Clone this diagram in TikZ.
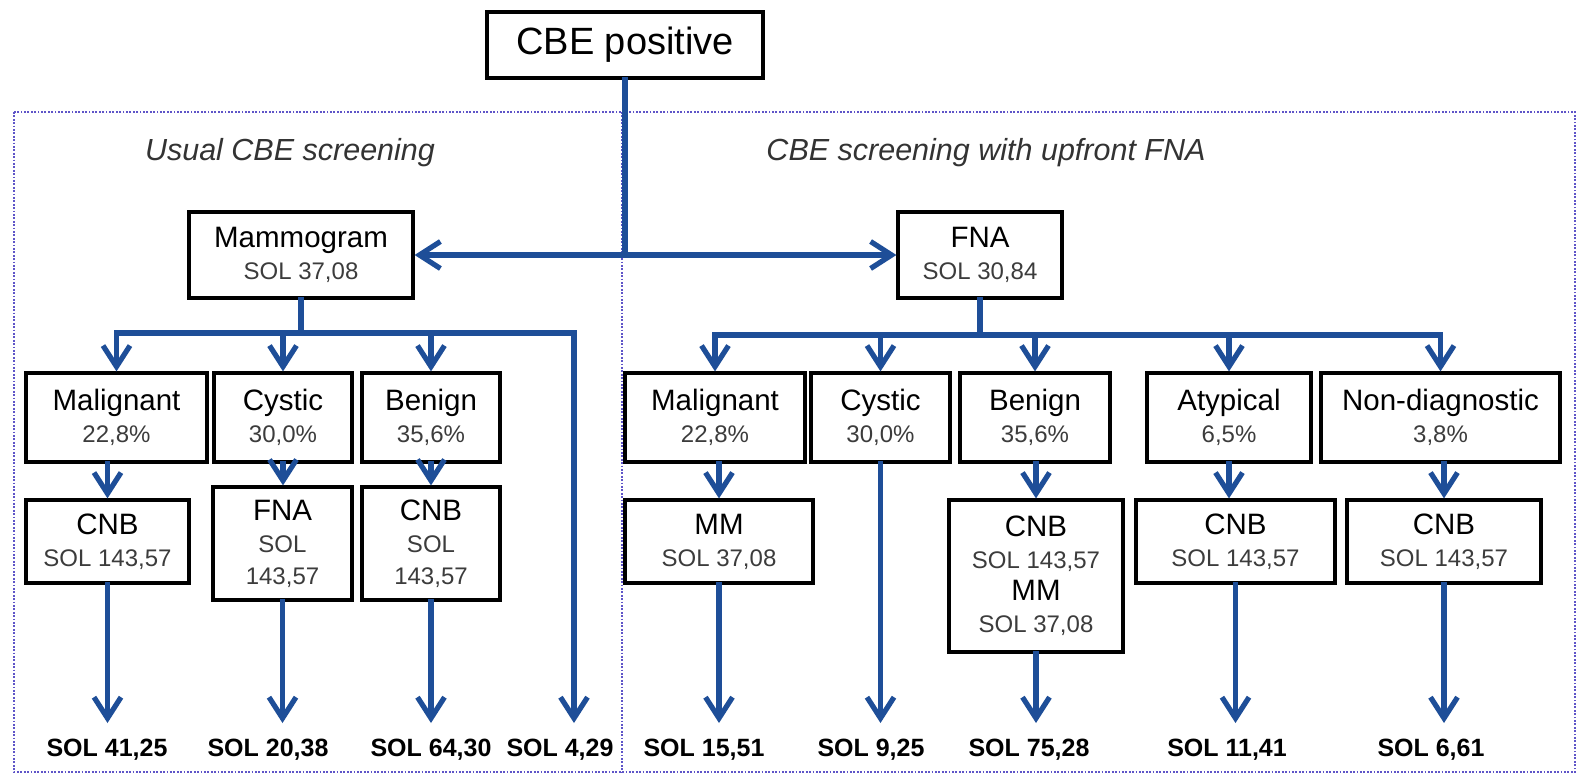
\documentclass[tikz,border=0pt]{standalone}
\usepackage{fontspec}
\setmainfont{Liberation Sans}
\usetikzlibrary{arrows.meta}
\definecolor{flow}{RGB}{30,78,152}
\definecolor{framecol}{RGB}{95,85,200}
\definecolor{subtext}{RGB}{60,60,60}
\newcommand\ttl[1]{{\fontsize{29.5}{32}\selectfont #1}}
\newcommand\sbt[1]{{\color{subtext}\fontsize{24}{32}\selectfont #1}}
\tikzset{
  box/.style={draw=black, line width=3.2pt, inner sep=2pt, align=center,
    font=\fontsize{24}{32}\selectfont},
  flowline/.style={draw=flow, line width=5.2pt, line cap=rect},
  barb/.tip={Straight Barb[length=21pt,width=27pt,line width=5.2pt,line join=miter]},
  flowarrow/.style={flowline, -barb},
  result/.style={font=\bfseries\fontsize{25}{30}\selectfont, inner sep=0pt},
  heading/.style={font=\itshape\fontsize{30.5}{34}\selectfont, text=black!80},
  frameline/.style={draw=framecol, line width=2pt, dash pattern=on 1.8pt off 1.6pt}
}
\begin{document}
\begin{tikzpicture}[x=1pt,y=-1pt]
\useasboundingbox (0,0) rectangle (1577,774);
\fill[white] (0,0) rectangle (1577,774);

% dotted frame split into the two strategies
\draw[frameline] (14,112) rectangle (1575,772);
\draw[frameline] (622,112) -- (622,772);

\node[heading] (hleft) at (290,153) {Usual CBE screening};
\node[heading] (hright) at (986,153) {CBE screening with upfront FNA};

% top level
\node[box, minimum width=276pt, minimum height=66pt, font=\fontsize{38}{42}\selectfont] (cbe) at (625,45) {CBE positive};
\node[box, minimum width=224pt, minimum height=86pt] (mam) at (301,255) {\ttl{Mammogram}\\\sbt{SOL 37,08}};
\node[box, minimum width=164pt, minimum height=86pt] (fna) at (980,255) {\ttl{FNA}\\\sbt{SOL 30,84}};

% first level results
\node[box, minimum width=181pt, minimum height=89pt] (lmal) at (116.5,417.5) {\ttl{Malignant}\\\sbt{22,8\%}};
\node[box, minimum width=138pt, minimum height=89pt] (lcys) at (283,417.5) {\ttl{Cystic}\\\sbt{30,0\%}};
\node[box, minimum width=138pt, minimum height=89pt] (lben) at (431,417.5) {\ttl{Benign}\\\sbt{35,6\%}};
\node[box, minimum width=180pt, minimum height=89pt] (rmal) at (715,417.5) {\ttl{Malignant}\\\sbt{22,8\%}};
\node[box, minimum width=139pt, minimum height=89pt] (rcys) at (880.5,417.5) {\ttl{Cystic}\\\sbt{30,0\%}};
\node[box, minimum width=150pt, minimum height=89pt] (rben) at (1035,417.5) {\ttl{Benign}\\\sbt{35,6\%}};
\node[box, minimum width=164pt, minimum height=89pt] (ratyp) at (1229,417.5) {\ttl{Atypical}\\\sbt{6,5\%}};
\node[box, minimum width=239pt, minimum height=89pt] (rnon) at (1440.5,417.5) {\ttl{Non-diagnostic}\\\sbt{3,8\%}};

% follow-up procedures
\node[box, minimum width=163pt, minimum height=83pt] (lcnb) at (107.5,541.5) {\ttl{CNB}\\\sbt{SOL 143,57}};
\node[box, minimum width=139pt, minimum height=113pt] (lfna) at (282.5,543.5) {\ttl{FNA}\\\sbt{SOL}\\\sbt{143,57}};
\node[box, minimum width=138pt, minimum height=113pt] (lcnbb) at (431,543.5) {\ttl{CNB}\\\sbt{SOL}\\\sbt{143,57}};
\node[box, minimum width=188pt, minimum height=83pt] (rmm) at (719,541.5) {\ttl{MM}\\\sbt{SOL 37,08}};
\node[box, minimum width=174pt, minimum height=152pt] (rcnbmm) at (1036,576) {\ttl{CNB}\\\sbt{SOL 143,57}\\\ttl{MM}\\\sbt{SOL 37,08}};
\node[box, minimum width=199pt, minimum height=83pt] (rcnba) at (1235.5,541.5) {\ttl{CNB}\\\sbt{SOL 143,57}};
\node[box, minimum width=194pt, minimum height=83pt] (rcnbn) at (1444,541.5) {\ttl{CNB}\\\sbt{SOL 143,57}};

% final costs
\node[result] (e1) at (107,750) {SOL 41,25};
\node[result] (e2) at (268,750) {SOL 20,38};
\node[result] (e3) at (431,750) {SOL 64,30};
\node[result] (e4) at (560,750) {SOL 4,29};
\node[result] (e5) at (704,750) {SOL 15,51};
\node[result] (e6) at (871,750) {SOL 9,25};
\node[result] (e7) at (1029,750) {SOL 75,28};
\node[result] (e8) at (1227,750) {SOL 11,41};
\node[result] (e9) at (1431,750) {SOL 6,61};

% routing helpers
\coordinate (lbus) at (0,333);
\coordinate (rbus) at (0,335);
\coordinate (endrow) at (0,723);
\coordinate (lskip) at (574,333);

% connectors from the entry point
\draw[flowline] (cbe.south) -- (cbe.south |- mam.east);
\draw[flowline, barb-barb] (mam.east) -- (fna.west);

% usual screening branch
\draw[flowline] (mam.south) -- (mam.south |- lbus);
\draw[flowline] (lmal.north |- lbus) -- (lskip);
\draw[flowarrow] (lmal.north |- lbus) -- (lmal.north);
\draw[flowarrow] (lcys.north |- lbus) -- (lcys.north);
\draw[flowarrow] (lben.north |- lbus) -- (lben.north);
\draw[flowarrow] (lskip) -- (lskip |- endrow);
\draw[flowarrow] (lmal.south -| lcnb.north) -- (lcnb.north);
\draw[flowarrow] (lcys.south) -- (lcys.south |- lfna.north);
\draw[flowarrow] (lben.south) -- (lben.south |- lcnbb.north);
\draw[flowarrow] (lcnb.south) -- (lcnb.south |- endrow);
\draw[flowarrow] (lfna.south) -- (lfna.south |- endrow);
\draw[flowarrow] (lcnbb.south) -- (lcnbb.south |- endrow);

% upfront FNA branch
\draw[flowline] (fna.south) -- (fna.south |- rbus);
\draw[flowline] (rmal.north |- rbus) -- (rnon.north |- rbus);
\draw[flowarrow] (rmal.north |- rbus) -- (rmal.north);
\draw[flowarrow] (rcys.north |- rbus) -- (rcys.north);
\draw[flowarrow] (rben.north |- rbus) -- (rben.north);
\draw[flowarrow] (ratyp.north |- rbus) -- (ratyp.north);
\draw[flowarrow] (rnon.north |- rbus) -- (rnon.north);
\draw[flowarrow] (rmal.south -| rmm.north) -- (rmm.north);
\draw[flowarrow] (rben.south -| rcnbmm.north) -- (rcnbmm.north);
\draw[flowarrow] (ratyp.south) -- (ratyp.south |- rcnba.north);
\draw[flowarrow] (rnon.south -| rcnbn.north) -- (rcnbn.north);
\draw[flowarrow] (rcys.south) -- (rcys.south |- endrow);
\draw[flowarrow] (rmm.south) -- (rmm.south |- endrow);
\draw[flowarrow] (rcnbmm.south) -- (rcnbmm.south |- endrow);
\draw[flowarrow] (rcnba.south) -- (rcnba.south |- endrow);
\draw[flowarrow] (rcnbn.south) -- (rcnbn.south |- endrow);
\end{tikzpicture}
\end{document}
